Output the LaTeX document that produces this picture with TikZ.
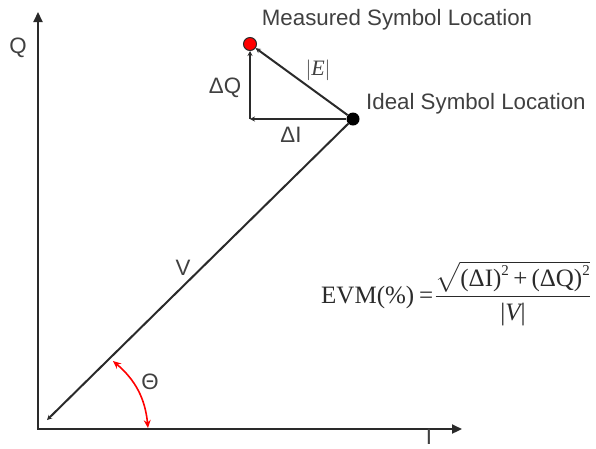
\documentclass[tikz,border=0pt]{standalone}
\usepackage{exscale}
\usepackage{fontspec}
\setmainfont{Liberation Sans}
\newfontfamily\tnr{Liberation Serif}
\usetikzlibrary{arrows.meta}
\definecolor{txt}{HTML}{404040}
\definecolor{ln}{HTML}{2a2a2a}
\newcommand{\suptwo}{\mbox{\fontsize{15}{15}\selectfont 2}}
\begin{document}
\begin{tikzpicture}[x=1pt,y=-1pt,
  lbl/.style={text=txt,font=\fontsize{22.3}{24}\selectfont,inner sep=0pt},
  axis/.style={draw=ln,line width=2.2pt,line join=miter,
    {Triangle[length=10pt,width=9pt]}-{Triangle[length=10pt,width=9pt]}},
  vec/.style={draw=ln,line width=2pt,-{Stealth[length=5pt,width=5pt]}},
  dot/.style={circle,minimum size=13pt,inner sep=0pt}]
\useasboundingbox (0,0) rectangle (596,448);
% axes
\coordinate (Qtip) at (38,12);
\coordinate (O) at (38,429);
\coordinate (Itip) at (462,429);
\draw[axis] (Qtip) -- (O) -- (Itip);
\node[lbl] (Q) at (18,48) {Q};
\node[lbl] (I) at (429,437) {I};
% points
\node[dot,fill=black] (ideal) at (353,119) {};
\node[dot,fill=red,draw=ln,line width=1pt] (meas) at (250,44) {};
\coordinate (corner) at (250,119);
\coordinate (orig) at (47,420);
% vectors
\draw[vec] (ideal) -- (orig);
\draw[vec] (ideal) -- (corner);
\draw[vec] (corner) -- (meas);
\draw[vec] (ideal) -- (meas);
% angle
\coordinate (a1) at (113,361);
\coordinate (a2) at (148,428);
\draw[red,line width=1.6pt,{Stealth[length=8pt,width=7pt]}-{Stealth[length=8pt,width=7pt]}] (a1) to[bend left=22] (a2);
% labels
\node[lbl] (mlab) at (397,20) {Measured Symbol Location};
\node[lbl,anchor=west] (ilab) at (366,104) {Ideal Symbol Location};
\node[lbl] (dq) at (225,88) {ΔQ};
\node[lbl] (di) at (291,135) {ΔI};
\node[text=txt,inner sep=0pt,font=\tnr\fontsize{22}{24}\selectfont] (E) at (318,70) {$\left|\mbox{\itshape E}\right|$};
\node[lbl] (V) at (183,268) {V};
\node[lbl] (th) at (150,382) {Θ};
% formula
\node[anchor=base west,text=ln,inner sep=0pt,font=\tnr\fontsize{25}{30}\selectfont] (evm) at (321,303)
  {EVM(\%)\hspace{5pt}=\hspace{1pt}$\displaystyle\frac{\sqrt{\mbox{(ΔI)}^{\suptwo}\mbox{\hspace{4pt}+\hspace{4pt}(ΔQ)}^{\suptwo}}}{\mbox{|\itshape V\upshape|}}$};
\end{tikzpicture}
\end{document}
